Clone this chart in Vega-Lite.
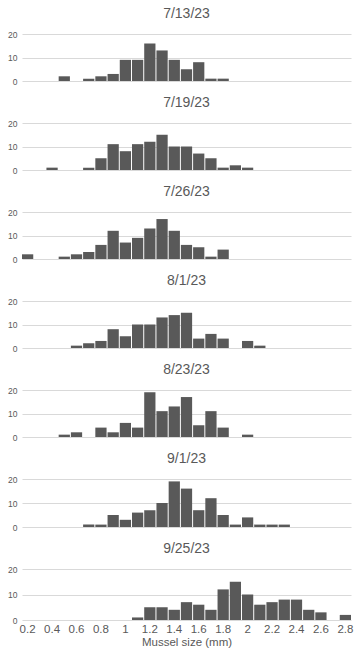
{
  "$schema": "https://vega.github.io/schema/vega-lite/v6.json",
  "background": "white",
  "padding": {"left": 7, "top": 7, "right": 5, "bottom": 5},
  "spacing": 10,
  "config": {
    "font": "Liberation Sans",
    "view": {"stroke": null},
    "title": {"fontSize": 14, "fontWeight": "normal", "color": "#595959", "offset": 9, "anchor": "middle"},
    "axis": {"labelFont": "Liberation Sans", "labelColor": "#595959", "titleColor": "#595959", "titleFont": "Liberation Sans", "titleFontWeight": "normal"},
    "bar": {"color": "#595959"}
  },
  "data": {"values": [
    {"d":"7/13/23","s":"0.5","n":2},{"d":"7/13/23","s":"0.7","n":1},{"d":"7/13/23","s":"0.8","n":2},{"d":"7/13/23","s":"0.9","n":3},{"d":"7/13/23","s":"1","n":9},{"d":"7/13/23","s":"1.1","n":9},{"d":"7/13/23","s":"1.2","n":16},{"d":"7/13/23","s":"1.3","n":13},{"d":"7/13/23","s":"1.4","n":9},{"d":"7/13/23","s":"1.5","n":5},{"d":"7/13/23","s":"1.6","n":8},{"d":"7/13/23","s":"1.7","n":1},{"d":"7/13/23","s":"1.8","n":1},
    {"d":"7/19/23","s":"0.4","n":1},{"d":"7/19/23","s":"0.7","n":1},{"d":"7/19/23","s":"0.8","n":5},{"d":"7/19/23","s":"0.9","n":11},{"d":"7/19/23","s":"1","n":8},{"d":"7/19/23","s":"1.1","n":11},{"d":"7/19/23","s":"1.2","n":12},{"d":"7/19/23","s":"1.3","n":15},{"d":"7/19/23","s":"1.4","n":10},{"d":"7/19/23","s":"1.5","n":10},{"d":"7/19/23","s":"1.6","n":7},{"d":"7/19/23","s":"1.7","n":5},{"d":"7/19/23","s":"1.8","n":1},{"d":"7/19/23","s":"1.9","n":2},{"d":"7/19/23","s":"2","n":1},
    {"d":"7/26/23","s":"0.2","n":2},{"d":"7/26/23","s":"0.5","n":1},{"d":"7/26/23","s":"0.6","n":2},{"d":"7/26/23","s":"0.7","n":3},{"d":"7/26/23","s":"0.8","n":6},{"d":"7/26/23","s":"0.9","n":12},{"d":"7/26/23","s":"1","n":7},{"d":"7/26/23","s":"1.1","n":9},{"d":"7/26/23","s":"1.2","n":13},{"d":"7/26/23","s":"1.3","n":17},{"d":"7/26/23","s":"1.4","n":12},{"d":"7/26/23","s":"1.5","n":6},{"d":"7/26/23","s":"1.6","n":5},{"d":"7/26/23","s":"1.7","n":1},{"d":"7/26/23","s":"1.8","n":4},
    {"d":"8/1/23","s":"0.6","n":1},{"d":"8/1/23","s":"0.7","n":2},{"d":"8/1/23","s":"0.8","n":3},{"d":"8/1/23","s":"0.9","n":8},{"d":"8/1/23","s":"1","n":5},{"d":"8/1/23","s":"1.1","n":10},{"d":"8/1/23","s":"1.2","n":10},{"d":"8/1/23","s":"1.3","n":13},{"d":"8/1/23","s":"1.4","n":14},{"d":"8/1/23","s":"1.5","n":15},{"d":"8/1/23","s":"1.6","n":4},{"d":"8/1/23","s":"1.7","n":6},{"d":"8/1/23","s":"1.8","n":4},{"d":"8/1/23","s":"2","n":3},{"d":"8/1/23","s":"2.1","n":1},
    {"d":"8/23/23","s":"0.5","n":1},{"d":"8/23/23","s":"0.6","n":2},{"d":"8/23/23","s":"0.8","n":4},{"d":"8/23/23","s":"0.9","n":2},{"d":"8/23/23","s":"1","n":6},{"d":"8/23/23","s":"1.1","n":4},{"d":"8/23/23","s":"1.2","n":19},{"d":"8/23/23","s":"1.3","n":11},{"d":"8/23/23","s":"1.4","n":13},{"d":"8/23/23","s":"1.5","n":17},{"d":"8/23/23","s":"1.6","n":5},{"d":"8/23/23","s":"1.7","n":11},{"d":"8/23/23","s":"1.8","n":4},{"d":"8/23/23","s":"2","n":1},
    {"d":"9/1/23","s":"0.7","n":1},{"d":"9/1/23","s":"0.8","n":1},{"d":"9/1/23","s":"0.9","n":5},{"d":"9/1/23","s":"1","n":3},{"d":"9/1/23","s":"1.1","n":6},{"d":"9/1/23","s":"1.2","n":7},{"d":"9/1/23","s":"1.3","n":10},{"d":"9/1/23","s":"1.4","n":19},{"d":"9/1/23","s":"1.5","n":16},{"d":"9/1/23","s":"1.6","n":7},{"d":"9/1/23","s":"1.7","n":12},{"d":"9/1/23","s":"1.8","n":5},{"d":"9/1/23","s":"1.9","n":1},{"d":"9/1/23","s":"2","n":4},{"d":"9/1/23","s":"2.1","n":1},{"d":"9/1/23","s":"2.2","n":1},{"d":"9/1/23","s":"2.3","n":1},
    {"d":"9/25/23","s":"1.1","n":1},{"d":"9/25/23","s":"1.2","n":5},{"d":"9/25/23","s":"1.3","n":5},{"d":"9/25/23","s":"1.4","n":4},{"d":"9/25/23","s":"1.5","n":7},{"d":"9/25/23","s":"1.6","n":6},{"d":"9/25/23","s":"1.7","n":4},{"d":"9/25/23","s":"1.8","n":12},{"d":"9/25/23","s":"1.9","n":15},{"d":"9/25/23","s":"2","n":10},{"d":"9/25/23","s":"2.1","n":6},{"d":"9/25/23","s":"2.2","n":7},{"d":"9/25/23","s":"2.3","n":8},{"d":"9/25/23","s":"2.4","n":8},{"d":"9/25/23","s":"2.5","n":4},{"d":"9/25/23","s":"2.6","n":3},{"d":"9/25/23","s":"2.8","n":2}
  ]},
  "vconcat": [
    {"title": "7/13/23", "width": 329, "height": 47, "transform": [{"filter": "datum.d === '7/13/23'"}], "mark": "bar",
     "encoding": {
       "x": {"field": "s", "type": "ordinal", "axis": null, "scale": {"domain": ["0.2","0.3","0.4","0.5","0.6","0.7","0.8","0.9","1","1.1","1.2","1.3","1.4","1.5","1.6","1.7","1.8","1.9","2","2.1","2.2","2.3","2.4","2.5","2.6","2.7","2.8"], "paddingInner": 0.08, "paddingOuter": 0}},
       "y": {"field": "n", "type": "quantitative", "scale": {"domain": [0, 20]}, "axis": {"values": [0, 10, 20], "title": null, "domain": false, "ticks": false, "labelFontSize": 8.5, "labelPadding": 5, "gridColor": "#d9d9d9"}}
     }},
    {"title": "7/19/23", "width": 329, "height": 47, "transform": [{"filter": "datum.d === '7/19/23'"}], "mark": "bar",
     "encoding": {
       "x": {"field": "s", "type": "ordinal", "axis": null, "scale": {"domain": ["0.2","0.3","0.4","0.5","0.6","0.7","0.8","0.9","1","1.1","1.2","1.3","1.4","1.5","1.6","1.7","1.8","1.9","2","2.1","2.2","2.3","2.4","2.5","2.6","2.7","2.8"], "paddingInner": 0.08, "paddingOuter": 0}},
       "y": {"field": "n", "type": "quantitative", "scale": {"domain": [0, 20]}, "axis": {"values": [0, 10, 20], "title": null, "domain": false, "ticks": false, "labelFontSize": 8.5, "labelPadding": 5, "gridColor": "#d9d9d9"}}
     }},
    {"title": "7/26/23", "width": 329, "height": 47, "transform": [{"filter": "datum.d === '7/26/23'"}], "mark": "bar",
     "encoding": {
       "x": {"field": "s", "type": "ordinal", "axis": null, "scale": {"domain": ["0.2","0.3","0.4","0.5","0.6","0.7","0.8","0.9","1","1.1","1.2","1.3","1.4","1.5","1.6","1.7","1.8","1.9","2","2.1","2.2","2.3","2.4","2.5","2.6","2.7","2.8"], "paddingInner": 0.08, "paddingOuter": 0}},
       "y": {"field": "n", "type": "quantitative", "scale": {"domain": [0, 20]}, "axis": {"values": [0, 10, 20], "title": null, "domain": false, "ticks": false, "labelFontSize": 8.5, "labelPadding": 5, "gridColor": "#d9d9d9"}}
     }},
    {"title": "8/1/23", "width": 329, "height": 47, "transform": [{"filter": "datum.d === '8/1/23'"}], "mark": "bar",
     "encoding": {
       "x": {"field": "s", "type": "ordinal", "axis": null, "scale": {"domain": ["0.2","0.3","0.4","0.5","0.6","0.7","0.8","0.9","1","1.1","1.2","1.3","1.4","1.5","1.6","1.7","1.8","1.9","2","2.1","2.2","2.3","2.4","2.5","2.6","2.7","2.8"], "paddingInner": 0.08, "paddingOuter": 0}},
       "y": {"field": "n", "type": "quantitative", "scale": {"domain": [0, 20]}, "axis": {"values": [0, 10, 20], "title": null, "domain": false, "ticks": false, "labelFontSize": 8.5, "labelPadding": 5, "gridColor": "#d9d9d9"}}
     }},
    {"title": "8/23/23", "width": 329, "height": 47, "transform": [{"filter": "datum.d === '8/23/23'"}], "mark": "bar",
     "encoding": {
       "x": {"field": "s", "type": "ordinal", "axis": null, "scale": {"domain": ["0.2","0.3","0.4","0.5","0.6","0.7","0.8","0.9","1","1.1","1.2","1.3","1.4","1.5","1.6","1.7","1.8","1.9","2","2.1","2.2","2.3","2.4","2.5","2.6","2.7","2.8"], "paddingInner": 0.08, "paddingOuter": 0}},
       "y": {"field": "n", "type": "quantitative", "scale": {"domain": [0, 20]}, "axis": {"values": [0, 10, 20], "title": null, "domain": false, "ticks": false, "labelFontSize": 8.5, "labelPadding": 5, "gridColor": "#d9d9d9"}}
     }},
    {"title": "9/1/23", "width": 329, "height": 48, "transform": [{"filter": "datum.d === '9/1/23'"}], "mark": "bar",
     "encoding": {
       "x": {"field": "s", "type": "ordinal", "axis": null, "scale": {"domain": ["0.2","0.3","0.4","0.5","0.6","0.7","0.8","0.9","1","1.1","1.2","1.3","1.4","1.5","1.6","1.7","1.8","1.9","2","2.1","2.2","2.3","2.4","2.5","2.6","2.7","2.8"], "paddingInner": 0.08, "paddingOuter": 0}},
       "y": {"field": "n", "type": "quantitative", "scale": {"domain": [0, 20]}, "axis": {"values": [0, 10, 20], "title": null, "domain": false, "ticks": false, "labelFontSize": 8.5, "labelPadding": 5, "gridColor": "#d9d9d9"}}
     }},
    {"title": "9/25/23", "width": 329, "height": 51, "transform": [{"filter": "datum.d === '9/25/23'"}], "mark": "bar",
     "encoding": {
       "x": {"field": "s", "type": "ordinal", "title": "Mussel size (mm)", "scale": {"domain": ["0.2","0.3","0.4","0.5","0.6","0.7","0.8","0.9","1","1.1","1.2","1.3","1.4","1.5","1.6","1.7","1.8","1.9","2","2.1","2.2","2.3","2.4","2.5","2.6","2.7","2.8"], "paddingInner": 0.08, "paddingOuter": 0},
             "axis": {"values": ["0.2","0.4","0.6","0.8","1","1.2","1.4","1.6","1.8","2","2.2","2.4","2.6","2.8"], "labelAngle": 0, "labelFontSize": 11.5, "labelPadding": 3, "ticks": false, "domain": false, "titleFontSize": 11.5, "titlePadding": 2}},
       "y": {"field": "n", "type": "quantitative", "scale": {"domain": [0, 20]}, "axis": {"values": [0, 10, 20], "title": null, "domain": false, "ticks": false, "labelFontSize": 8.5, "labelPadding": 5, "gridColor": "#d9d9d9"}}
     }}
  ]
}
